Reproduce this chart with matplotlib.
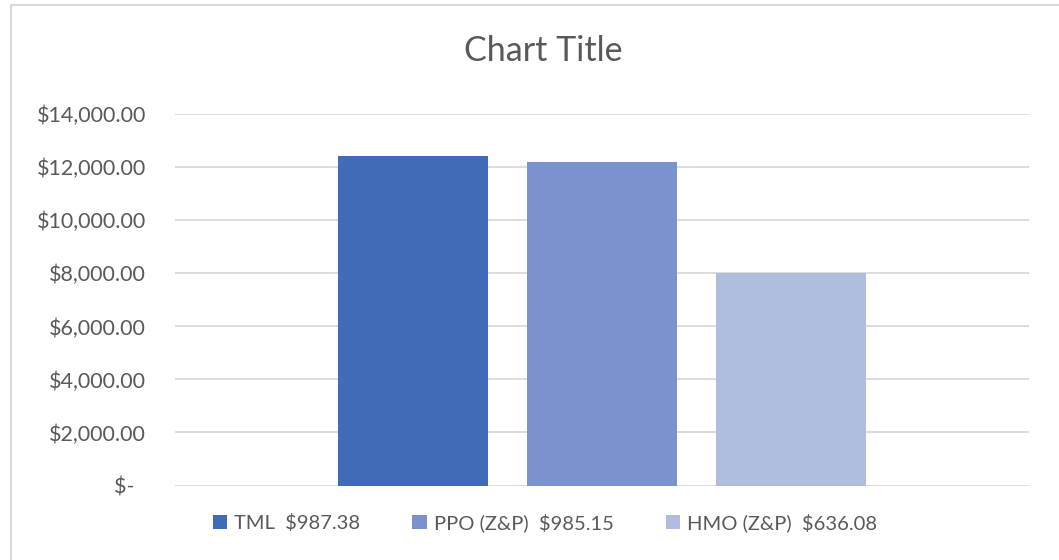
import matplotlib.pyplot as plt
from matplotlib.lines import Line2D
from matplotlib.patches import Patch

series = ['TML  $987.38', 'PPO (Z&P)  $985.15', 'HMO (Z&P)  $636.08']
values = [12430, 12210, 8020]
colors = ['#406BB9', '#7A93CF', '#B1BDDE']
yticks = [0, 2000, 4000, 6000, 8000, 10000, 12000, 14000]
ytick_labels = ['$-  ', '$2,000.00', '$4,000.00', '$6,000.00', '$8,000.00',
                '$10,000.00', '$12,000.00', '$14,000.00']

plt.rcParams['font.family'] = ['Lato', 'DejaVu Sans']
text_color = '#595959'
grid_color = '#D9D9D9'

fig = plt.figure(figsize=(10.59, 5.6), dpi=100)
ax = fig.add_axes([175 / 1059, 1 - 485.5 / 560, 854 / 1059, (485.5 - 114.3) / 560])

step = 189 / 854
width = 150 / 854
for i, (name, val, col) in enumerate(zip(series, values, colors)):
    ax.bar((i - 1) * step, val, width=width, color=col, label=name, zorder=3)

ax.set_xlim(-0.5, 0.5)
ax.set_ylim(0, 14000)
ax.set_yticks(yticks)
ax.set_yticklabels(ytick_labels)
ax.set_xticks([])
ax.tick_params(axis='y', length=0, pad=21, labelsize=15.5, labelcolor=text_color)
ax.grid(axis='y', color=grid_color, linewidth=1.3, zorder=0)
for s in ax.spines.values():
    s.set_visible(False)

fig.text(543 / 1059, 1 - 51 / 560, 'Chart Title', ha='center', va='center',
         fontsize=24.5, color=text_color)

handles = [Patch(facecolor=c, edgecolor='none') for c in colors]
fig.legend(handles, series, loc='center', bbox_to_anchor=(545 / 1059, 1 - 523 / 560),
           ncol=3, frameon=False, fontsize=14.5, labelcolor=text_color,
           handlelength=0.7, handleheight=0.7, handletextpad=0.35, columnspacing=2.6)

# chart border (top and left edges visible)
fig.add_artist(Line2D([11 / 1059, 11 / 1059], [0, 1 - 5 / 560], color=grid_color, linewidth=1.5))
fig.add_artist(Line2D([11 / 1059, 1], [1 - 5 / 560, 1 - 5 / 560], color=grid_color, linewidth=1.5))

fig.savefig('out.png', dpi=100, facecolor='white')
